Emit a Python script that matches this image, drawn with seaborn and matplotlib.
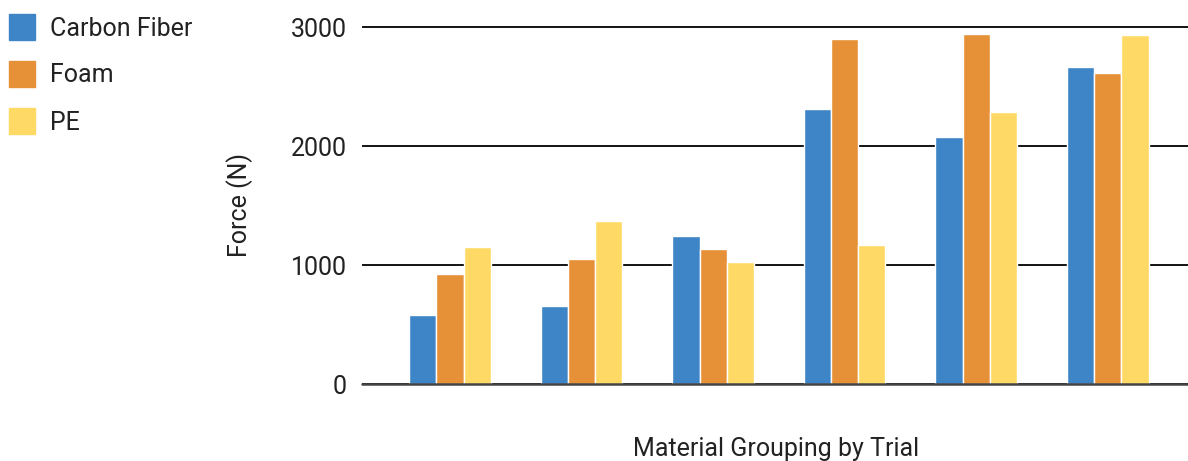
import matplotlib
matplotlib.use("Agg")
import matplotlib.pyplot as plt
import seaborn as sns
import pandas as pd
from matplotlib.lines import Line2D

# Peak force per trial for each material (N)
trials = ["Trial 1", "Trial 2", "Trial 3", "Trial 4", "Trial 5", "Trial 6"]
materials = ["Carbon Fiber", "Foam", "PE"]
carbon_fiber = [582, 655, 1245, 2309, 2074, 2667]
foam = [923, 1050, 1139, 2899, 2939, 2614]
pe = [1155, 1371, 1027, 1172, 2289, 2935]
y_ticks = [0, 1000, 2000, 3000]

colors = ["#3d85c6", "#e69138", "#ffd966"]

df = pd.DataFrame({
    "Trial": trials * 3,
    "Material": [m for m in materials for _ in trials],
    "Force": carbon_fiber + foam + pe,
})

sns.set_theme(style="white")
plt.rcParams["font.family"] = ["Roboto", "DejaVu Sans"]
text_color = "#222222"
fs = 18

fig = plt.figure(figsize=(11.88, 4.61), dpi=100)
ax = fig.add_axes([0.3047, 0.1664, 0.6953, 0.8008])

sns.barplot(data=df, x="Trial", y="Force", hue="Material", hue_order=materials,
            palette=colors, width=0.62, saturation=1, edgecolor="white",
            linewidth=1.0, legend=False, ax=ax)

ax.set_ylim(0, 3100)
ax.set_xlim(-0.669, 5.61)
ax.set_yticks(y_ticks)
ax.set_yticklabels([str(v) for v in y_ticks], fontsize=fs, color=text_color)
ax.tick_params(axis="y", length=0, pad=11)
ax.tick_params(axis="x", length=0, labelbottom=False)

for s in ax.spines.values():
    s.set_visible(False)
ax.yaxis.grid(True, color="black", linewidth=1.3)
ax.xaxis.grid(False)
ax.set_axisbelow(True)
ax.axhline(0, color="#444444", linewidth=1.8, clip_on=False, zorder=3)

ax.set_xlabel("Material Grouping by Trial", fontsize=fs, color=text_color)
ax.xaxis.set_label_coords(0.501, -0.143)
ax.set_ylabel("Force (N)", fontsize=fs, color=text_color)
ax.yaxis.set_label_coords(-0.132, 0.486)

handles = [Line2D([], [], linestyle="none", marker="s", markersize=19,
                  markerfacecolor=c, markeredgecolor=c) for c in colors]
fig.legend(handles, materials, loc="upper left",
           bbox_to_anchor=(-3 / 1188, 1 - 4 / 461),
           frameon=False, fontsize=fs, labelspacing=0.92, handlelength=1.0,
           handletextpad=0.62, borderaxespad=0.0, borderpad=0.5,
           labelcolor=text_color)

fig.savefig("out.png", dpi=100)
